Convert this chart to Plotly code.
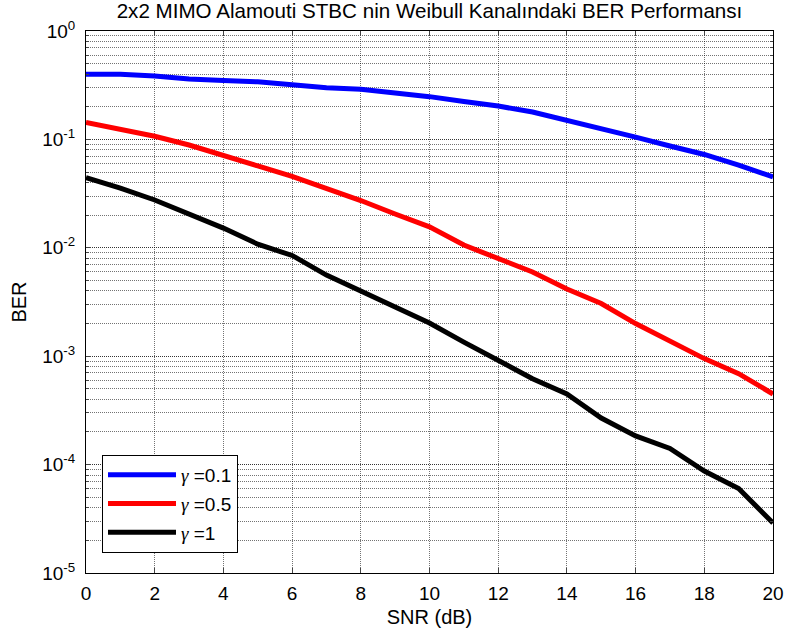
import plotly.graph_objects as go

snr = list(range(0, 21))

ber_g01 = [0.40, 0.40, 0.385, 0.36, 0.35, 0.34, 0.32, 0.30, 0.29, 0.27, 0.248,
           0.224, 0.203, 0.179, 0.151, 0.127, 0.105, 0.087, 0.0726, 0.058, 0.045]
ber_g05 = [0.143, 0.125, 0.107, 0.0888, 0.0718, 0.0569, 0.0455, 0.0356, 0.0273,
           0.0205, 0.0156, 0.0106, 0.0079, 0.00598, 0.00417, 0.00306, 0.0020,
           0.00137, 0.00095, 0.00069, 0.000448]
ber_g1 = [0.0445, 0.0356, 0.0276, 0.0205, 0.0152, 0.0108, 0.0085, 0.0056, 0.0040,
          0.0029, 0.00202, 0.00135, 0.00092, 0.00062, 0.000448, 0.000269,
          0.000184, 0.000141, 0.0000873, 0.0000602, 0.0000289]

GAMMA = "<span style='font-family:Liberation Serif'><i>γ</i></span>"
series_names = [GAMMA + " =0.1", GAMMA + " =0.5", GAMMA + " =1"]
series_colors = ["#0000ff", "#ff0000", "#000000"]

x_ticks = list(range(0, 21, 2))
y_tickvals = [1e-5, 1e-4, 1e-3, 1e-2, 1e-1, 1]
y_ticktext = ["10<sup>-5</sup>", "10<sup>-4</sup>", "10<sup>-3</sup>",
              "10<sup>-2</sup>", "10<sup>-1</sup>", "10<sup>0</sup>"]

FONT = "Liberation Sans, Arial, sans-serif"
L, R, T, B = 86, 14, 31, 66
W, H = 787, 639

fig = go.Figure()
for i, (vals, name, col) in enumerate(zip([ber_g01, ber_g05, ber_g1], series_names, series_colors)):
    fig.add_trace(go.Scatter(x=snr, y=vals, mode="lines", name=name,
                             line=dict(color=col, width=5), legendgroup=f"g{i}"))

grid_col = "rgba(0,0,0,0.55)"
grid_dash = "1px,1px"
pw, ph = W - L - R, H - T - B
fig.update_layout(
    width=W, height=H,
    paper_bgcolor="white", plot_bgcolor="white",
    margin=dict(l=L, r=R, t=T, b=B, autoexpand=False),
    font=dict(family=FONT, size=19, color="black"),
    title=dict(text="2x2 MIMO Alamouti STBC nin Weibull Kanalındaki BER Performansı",
               x=(L + W - R) / 2 / W, xanchor="center", xref="container",
               y=1 - 11 / H, yanchor="middle", yref="container",
               font=dict(size=20.6)),
    showlegend=True,
    legend=dict(x=(102 - L) / pw, y=(H - B - 455) / ph, xanchor="left", yanchor="top",
                bgcolor="white", bordercolor="black", borderwidth=1,
                font=dict(size=19), itemwidth=68, tracegroupgap=1,
                traceorder="grouped"),
    xaxis=dict(range=[0, 20], tickvals=x_ticks, ticks="inside", ticklen=5,
               showline=True, linecolor="black", linewidth=1, mirror="ticks",
               showgrid=True, gridcolor=grid_col, griddash=grid_dash, gridwidth=1,
               zeroline=False, ticklabelstandoff=3, automargin=False,
               tickfont=dict(size=19),
               title=dict(text="SNR (dB)", standoff=7, font=dict(size=20))),
    yaxis=dict(type="log", range=[-5, 0], tickvals=y_tickvals, ticktext=y_ticktext,
               ticks="inside", ticklen=5,
               showline=True, linecolor="black", linewidth=1, mirror="ticks",
               showgrid=True, gridcolor=grid_col, griddash=grid_dash, gridwidth=1,
               zeroline=False, ticklabelstandoff=6, automargin=False,
               tickfont=dict(size=19),
               minor=dict(ticks="inside", ticklen=3, showgrid=True,
                          gridcolor=grid_col, griddash=grid_dash, gridwidth=1,
                          dtick="D1"),
               title=dict(text="BER", standoff=10, font=dict(size=20))),
)

fig.write_html("out.html", config={"displayModeBar": False},
               post_script="document.body.style.margin='0';document.body.style.padding='0';")
